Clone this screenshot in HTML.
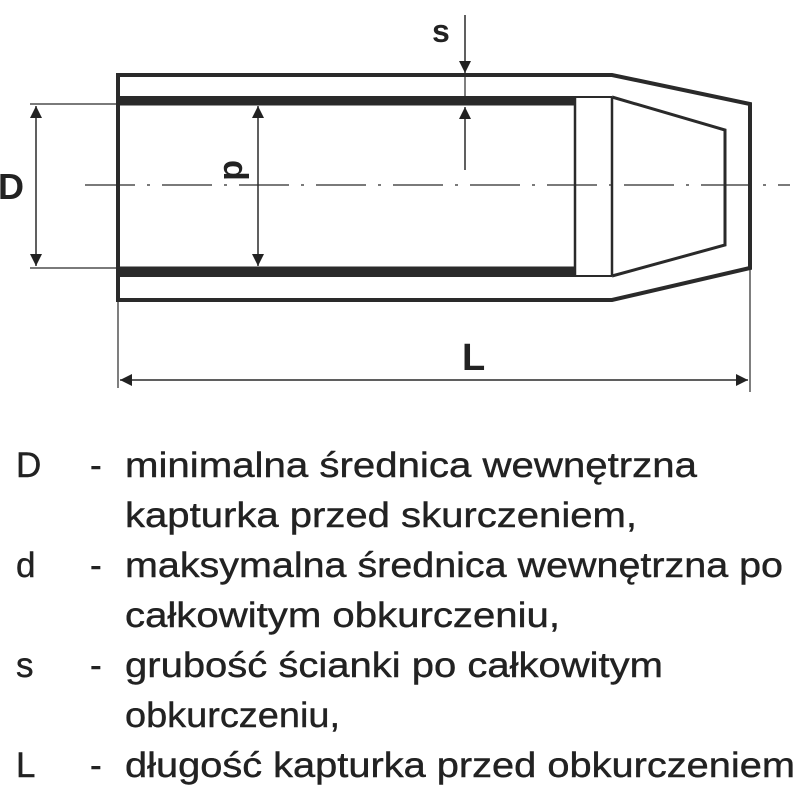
<!DOCTYPE html>
<html><head><meta charset="utf-8"><style>body{margin:0;background:#fff}svg{display:block}</style></head>
<body>
<svg width="800" height="800" viewBox="0 0 800 800" xmlns="http://www.w3.org/2000/svg">
<defs>
<marker id="a" viewBox="0 0 10 10" refX="10" refY="5" markerWidth="16" markerHeight="12" orient="auto" markerUnits="userSpaceOnUse"><path d="M0,0 L10,5 L0,10 z" fill="#222"/></marker>
</defs>
<g stroke="#2a2a2a" fill="none">
<path d="M118,75 L612,75 L750,104 L750,268 L612,300 L118,300 Z" stroke-width="4"/>
<path d="M120,101 L575,101" stroke-width="9"/>
<path d="M120,271 L575,271" stroke-width="9"/>
<path d="M118,97 L612,97 M118,276 L612,276" stroke-width="2"/>
<path d="M575,97 L575,276 M612,97 L612,276" stroke-width="2.5"/>
<path d="M612,97 L725,130 L725,245 L612,276" stroke-width="3"/>
<path d="M85,185 L790,185" stroke-width="1.3" stroke-dasharray="50,12,3,12"/>
<path d="M30,104 L118,104 M30,268 L118,268" stroke-width="1.2"/>
<path d="M36,186 L36,106" stroke-width="1.5" marker-end="url(#a)"/>
<path d="M36,186 L36,266" stroke-width="1.5" marker-end="url(#a)"/>
<path d="M258,186 L258,106" stroke-width="1.5" marker-end="url(#a)"/>
<path d="M258,186 L258,266" stroke-width="1.5" marker-end="url(#a)"/>
<path d="M465,15 L465,73" stroke-width="1.5" marker-end="url(#a)"/>
<path d="M465,170 L465,107" stroke-width="1.5" marker-end="url(#a)"/>
<path d="M465,75 L465,105" stroke-width="1.2"/>
<path d="M118,300 L118,388 M750,268 L750,392" stroke-width="1.2"/>
<path d="M434,380 L120,380" stroke-width="1.5" marker-end="url(#a)"/>
<path d="M434,380 L748,380" stroke-width="1.5" marker-end="url(#a)"/>
</g>
<g font-family="Liberation Sans, sans-serif" font-weight="bold" fill="#222">
<text x="-2" y="199" font-size="36">D</text>
<text x="432" y="42" font-size="32">s</text>
<text x="462" y="370" font-size="38">L</text>
<text transform="translate(224,160) rotate(90)" font-size="34">d</text>
</g>
<g font-family="Liberation Sans, sans-serif" font-size="35" fill="#222" stroke="#222" stroke-width="0.4">
<text x="16" y="477">D</text><text x="90" y="477">-</text>
<text x="125" y="477" textLength="572" lengthAdjust="spacingAndGlyphs">minimalna średnica wewnętrzna</text>
<text x="125" y="527" textLength="512" lengthAdjust="spacingAndGlyphs">kapturka przed skurczeniem,</text>
<text x="16" y="577">d</text><text x="90" y="577">-</text>
<text x="125" y="577" textLength="658" lengthAdjust="spacingAndGlyphs">maksymalna średnica wewnętrzna po</text>
<text x="125" y="627" textLength="435" lengthAdjust="spacingAndGlyphs">całkowitym obkurczeniu,</text>
<text x="16" y="677">s</text><text x="90" y="677">-</text>
<text x="125" y="677" textLength="538" lengthAdjust="spacingAndGlyphs">grubość ścianki po całkowitym</text>
<text x="125" y="727" textLength="215" lengthAdjust="spacingAndGlyphs">obkurczeniu,</text>
<text x="16" y="777">L</text><text x="90" y="777">-</text>
<text x="125" y="777" textLength="670" lengthAdjust="spacingAndGlyphs">długość kapturka przed obkurczeniem</text>
</g>
</svg>
</body></html>
